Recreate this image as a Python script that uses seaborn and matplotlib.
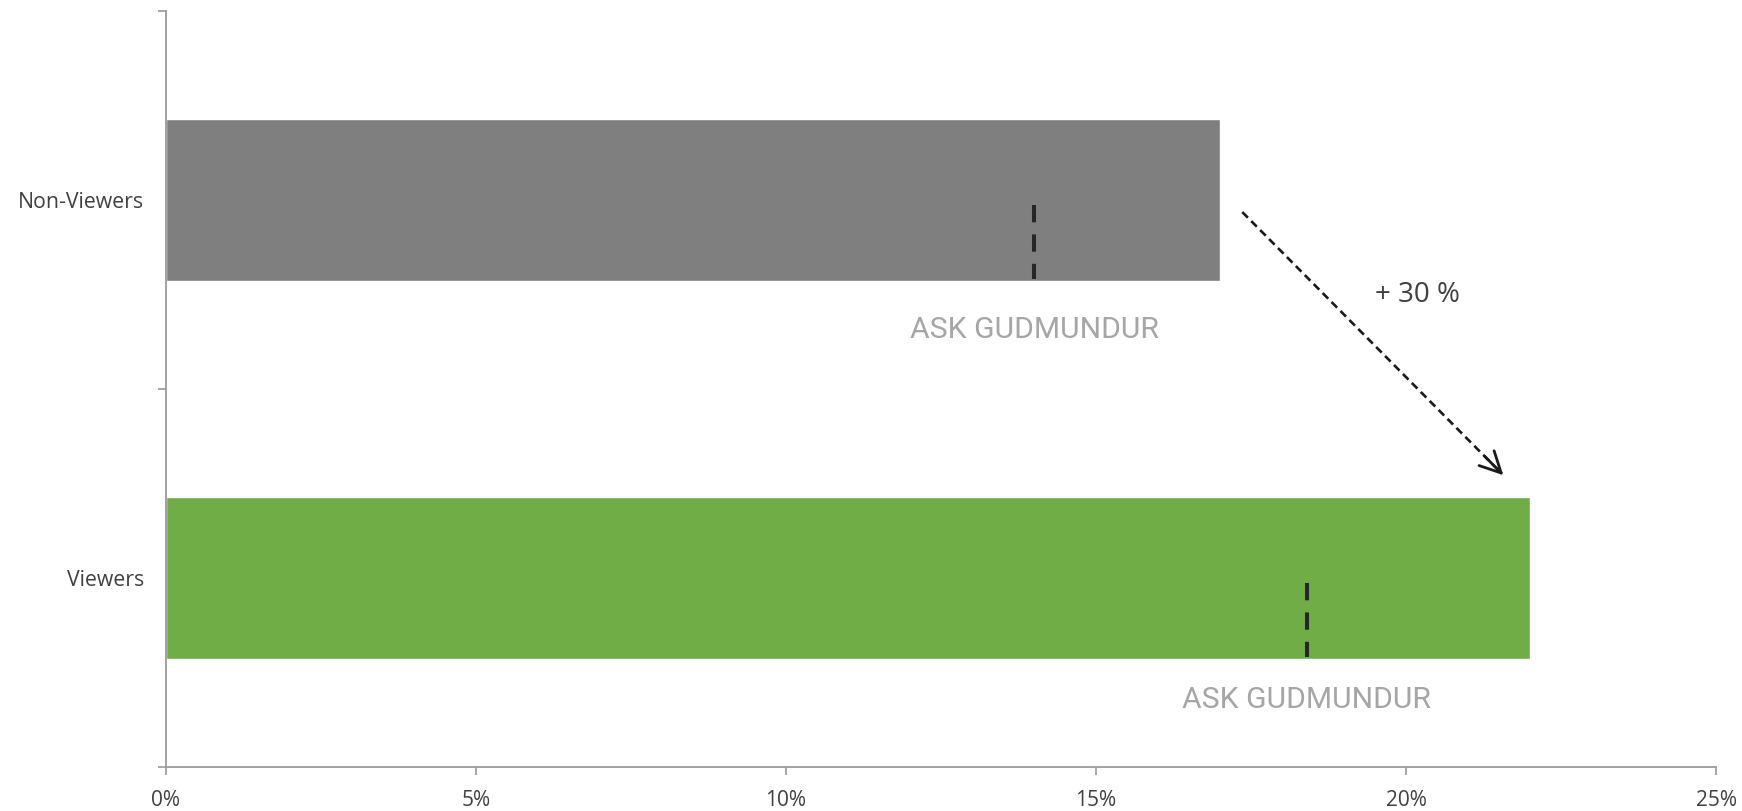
import matplotlib
matplotlib.use("Agg")
import matplotlib.pyplot as plt
import seaborn as sns
import pandas as pd
from matplotlib.ticker import FuncFormatter, FixedLocator

# Share of each group (in %)
groups = ["Non-Viewers", "Viewers"]
shares = [17.0, 22.0]
# Benchmark markers drawn inside each bar
benchmarks = [14.0, 18.4]
benchmark_labels = ["ASK GUDMUNDUR", "ASK GUDMUNDUR"]
bar_colors = ["#7f7f7f", "#70ad47"]
x_ticks = [0, 5, 10, 15, 20, 25]
change_label = "+ 30 %"

sns.set_style("white")
plt.rcParams["font.family"] = ["Open Sans", "DejaVu Sans"]

df = pd.DataFrame({"group": groups, "share": shares})

fig = plt.figure(figsize=(17.42, 8.11), dpi=100)
ax = fig.add_axes([166 / 1742, 44 / 811, 1550 / 1742, 756 / 811])

sns.barplot(data=df, x="share", y="group", hue="group", palette=bar_colors,
            orient="h", width=0.426, legend=False, ax=ax, saturation=1)

ax.set_xlim(0, 25)
ax.set_ylim(1.5, -0.5)
ax.set_xlabel("")
ax.set_ylabel("")

# Axes styling
axis_gray = "#9a9a9a"
for side in ["top", "right"]:
    ax.spines[side].set_visible(False)
for side in ["left", "bottom"]:
    ax.spines[side].set_color(axis_gray)
    ax.spines[side].set_linewidth(1.3)

ax.xaxis.set_major_locator(FixedLocator(x_ticks))
ax.xaxis.set_major_formatter(FuncFormatter(lambda v, p: f"{v:.0f}%"))
ax.tick_params(axis="x", direction="out", length=5.5, width=1.2, color=axis_gray,
               labelsize=15, labelcolor="#404040", pad=11, bottom=True)

ax.yaxis.set_minor_locator(FixedLocator([-0.5, 0.5, 1.5]))
ax.tick_params(axis="y", which="major", length=0, labelsize=15.3,
               labelcolor="#404040", pad=15.5)
ax.tick_params(axis="y", which="minor", direction="out", length=5.5, width=1.2,
               color=axis_gray, left=True)

# Dashed benchmark markers and their labels
label_offsets = [0.345, 0.322]
for i, (b, lab) in enumerate(zip(benchmarks, benchmark_labels)):
    ax.plot([b, b], [i + 0.012, i + 0.21], color="#262626", lw=2.9,
            linestyle=(0, (4.3, 3.0)), solid_capstyle="butt")
    ax.text(b, i + label_offsets[i], lab, ha="center", va="center", fontsize=21.7,
            color="#a6a6a6", family=["Roboto", "DejaVu Sans"])

# Dashed arrow from one bar to the next
x0, y0 = shares[0] + 0.36, 0.032
x1, y1 = shares[1] - 0.43, 0.728
ax.plot([x0, x1 - 0.03], [y0, y1 - 0.005], color="#1a1a1a", lw=1.9,
        linestyle=(0, (3.0, 1.8)))
ax.annotate("", xy=(x1, y1), xytext=(x1 - 0.3, y1 - 0.05),
            arrowprops=dict(arrowstyle="->,head_length=0.75,head_width=0.38",
                            color="#1a1a1a", lw=2.0, mutation_scale=20,
                            shrinkA=0, shrinkB=0))
ax.text(20.19, 0.25, change_label, ha="center", va="center", fontsize=20,
        color="#404040")

fig.savefig("out.png", dpi=100)
